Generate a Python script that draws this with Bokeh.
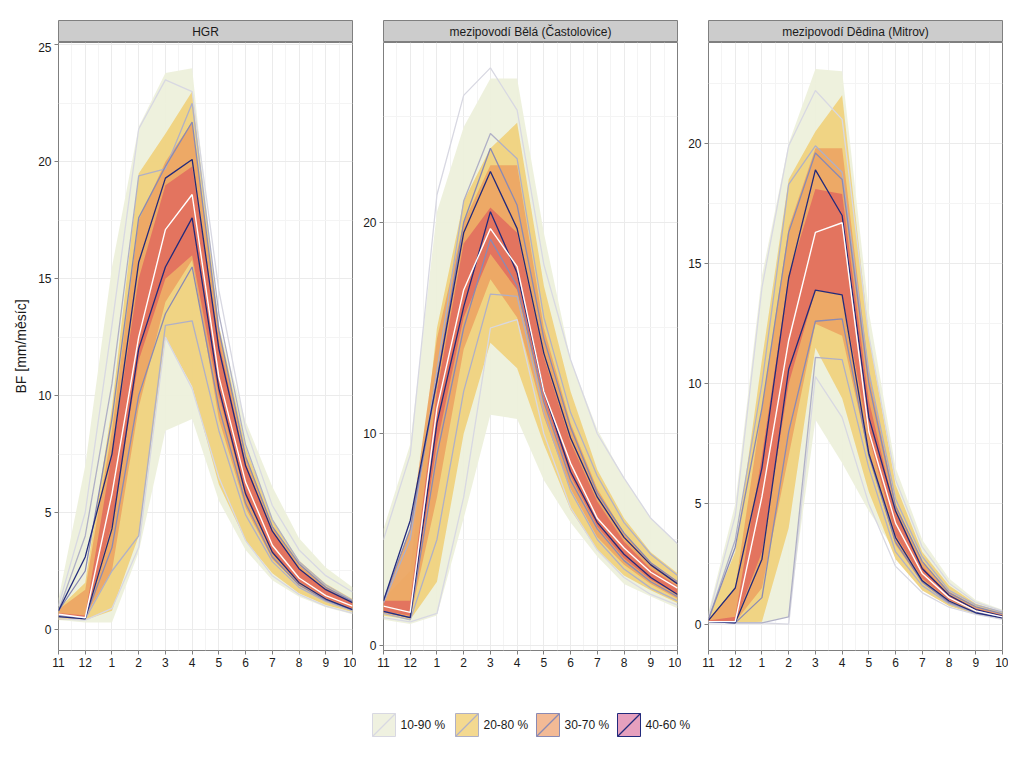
from bokeh.plotting import figure
from bokeh.layouts import column, row
from bokeh.models import Range1d, FixedTicker
from bokeh.embed import file_html
from bokeh.resources import INLINE
from bokeh.core.properties import value

# ---------------- data ----------------
months = ["11", "12", "1", "2", "3", "4", "5", "6", "7", "8", "9", "10"]
panel_titles = ["HGR", "mezipovodí Bělá (Častolovice)", "mezipovodí Dědina (Mitrov)"]
band_labels = ["10-90 %", "20-80 %", "30-70 %", "40-60 %"]
y_axis_label = "BF [mm/měsíc]"

# Panel 1: HGR
hgr_fill_10_90_lo = [0.4, 0.3, 0.3, 3.3, 8.5, 9.0, 5.5, 3.4, 2.1, 1.4, 0.95, 0.65]
hgr_fill_10_90_hi = [1.3, 7.0, 15.5, 21.5, 23.8, 24.0, 13.0, 8.9, 6.1, 3.9, 2.65, 1.8]
hgr_fill_20_80_lo = [0.4, 0.4, 0.8, 4.0, 12.5, 10.4, 6.2, 3.8, 2.4, 1.55, 1.05, 0.75]
hgr_fill_20_80_hi = [0.9, 2.0, 9.5, 19.5, 21.2, 23.0, 13.0, 7.8, 4.7, 2.95, 1.95, 1.3]
hgr_fill_30_70_lo = [0.6, 0.55, 2.5, 9.5, 14.0, 15.8, 9.0, 5.2, 3.0, 1.9, 1.25, 0.88]
hgr_fill_30_70_hi = [0.85, 1.7, 8.5, 17.5, 20.0, 21.7, 12.8, 7.4, 4.4, 2.75, 1.8, 1.2]
hgr_fill_40_60_lo = [0.6, 0.5, 4.5, 11.5, 15.0, 16.0, 10.0, 5.7, 3.3, 2.05, 1.35, 0.9]
hgr_fill_40_60_hi = [0.7, 0.6, 7.5, 15.0, 19.0, 19.8, 12.3, 7.1, 4.2, 2.6, 1.7, 1.12]
hgr_line_10_90_lo = [0.45, 0.4, 0.9, 3.5, 12.5, 10.3, 6.5, 3.8, 2.3, 1.5, 1.0, 0.7]
hgr_line_10_90_hi = [1.0, 5.0, 13.0, 21.4, 23.5, 23.0, 14.5, 8.6, 5.3, 3.4, 2.3, 1.6]
hgr_line_20_80_lo = [0.55, 0.45, 2.5, 4.0, 13.0, 13.2, 8.5, 4.9, 2.9, 1.8, 1.2, 0.8]
hgr_line_20_80_hi = [0.8, 4.0, 10.5, 19.4, 19.7, 22.5, 13.5, 7.9, 4.7, 2.9, 1.9, 1.25]
hgr_line_30_70_lo = [0.6, 0.5, 3.5, 10.0, 13.5, 15.5, 9.5, 5.4, 3.1, 1.9, 1.25, 0.85]
hgr_line_30_70_hi = [0.8, 2.5, 9.0, 17.6, 19.8, 21.7, 12.8, 7.4, 4.4, 2.8, 1.8, 1.2]
hgr_line_40_60_lo = [0.55, 0.45, 4.3, 12.0, 15.5, 17.6, 10.3, 5.8, 3.3, 2.0, 1.3, 0.85]
hgr_line_40_60_hi = [0.8, 3.1, 7.5, 15.7, 19.3, 20.1, 12.0, 7.0, 4.2, 2.6, 1.7, 1.15]
hgr_median = [0.65, 0.5, 5.8, 12.5, 17.1, 18.6, 10.8, 6.3, 3.6, 2.2, 1.45, 1.0]

# Panel 2: Bělá (Častolovice)
bela_fill_10_90_lo = [1.2, 1.0, 1.4, 6.0, 10.9, 10.7, 7.8, 5.8, 4.2, 2.9, 2.3, 1.75]
bela_fill_10_90_hi = [5.5, 9.5, 20.5, 24.5, 26.8, 26.8, 19.5, 13.5, 10.2, 7.9, 6.0, 4.8]
bela_fill_20_80_lo = [1.4, 1.2, 3.0, 10.0, 14.3, 13.1, 9.5, 6.4, 4.5, 3.3, 2.6, 2.0]
bela_fill_20_80_hi = [2.2, 3.5, 15.0, 21.0, 23.5, 24.7, 17.0, 12.0, 8.3, 6.0, 4.4, 3.4]
bela_fill_30_70_lo = [1.5, 1.3, 7.0, 14.0, 17.3, 15.5, 10.8, 7.4, 5.1, 3.8, 2.9, 2.2]
bela_fill_30_70_hi = [2.1, 5.5, 14.5, 20.0, 22.7, 22.7, 15.0, 10.5, 7.4, 5.3, 3.9, 3.0]
bela_fill_40_60_lo = [1.6, 1.4, 9.5, 15.5, 18.5, 16.8, 11.6, 8.0, 5.6, 4.1, 3.1, 2.4]
bela_fill_40_60_hi = [2.1, 2.1, 12.0, 19.0, 20.7, 19.5, 13.6, 9.6, 6.8, 4.9, 3.6, 2.8]
bela_line_10_90_lo = [1.3, 1.1, 1.5, 7.0, 15.0, 15.4, 10.0, 6.5, 4.5, 3.2, 2.4, 1.9]
bela_line_10_90_hi = [5.0, 9.0, 21.3, 26.0, 27.3, 25.3, 18.0, 13.5, 10.0, 7.9, 6.0, 4.8]
bela_line_20_80_lo = [1.5, 1.2, 5.0, 12.0, 16.6, 16.5, 11.0, 7.3, 5.0, 3.6, 2.7, 2.1]
bela_line_20_80_hi = [2.0, 5.0, 13.0, 21.0, 24.2, 23.0, 15.5, 11.0, 8.0, 5.8, 4.3, 3.3]
bela_line_30_70_lo = [1.6, 1.3, 9.0, 15.0, 19.2, 17.0, 11.5, 7.8, 5.5, 4.0, 3.0, 2.3]
bela_line_30_70_hi = [2.1, 5.5, 12.5, 20.0, 23.5, 20.8, 14.5, 10.3, 7.2, 5.3, 3.9, 3.0]
bela_line_40_60_lo = [1.6, 1.3, 10.5, 16.0, 20.5, 17.6, 12.0, 8.2, 5.8, 4.3, 3.2, 2.4]
bela_line_40_60_hi = [2.1, 5.9, 12.5, 19.5, 22.4, 19.7, 13.8, 9.8, 7.0, 5.1, 3.8, 2.9]
bela_median = [1.85, 1.55, 11.2, 16.8, 19.7, 17.9, 12.0, 8.6, 6.0, 4.6, 3.45, 2.7]

# Panel 3: Dědina (Mitrov)
dedina_fill_10_90_lo = [0.05, 0.05, 0.05, 0.3, 8.5, 6.7, 4.7, 3.0, 1.8, 0.95, 0.5, 0.25]
dedina_fill_10_90_hi = [0.5, 5.0, 14.5, 20.0, 23.1, 23.0, 13.0, 6.5, 3.5, 1.9, 1.0, 0.6]
dedina_fill_20_80_lo = [0.05, 0.05, 0.1, 4.0, 11.5, 9.4, 5.5, 2.7, 1.4, 0.75, 0.4, 0.2]
dedina_fill_20_80_hi = [0.3, 3.0, 11.0, 18.5, 20.5, 22.0, 12.0, 5.8, 3.0, 1.6, 0.85, 0.5]
dedina_fill_30_70_lo = [0.1, 0.1, 1.5, 7.0, 12.5, 12.0, 7.0, 3.3, 1.7, 0.9, 0.5, 0.28]
dedina_fill_30_70_hi = [0.2, 1.5, 9.0, 16.5, 19.8, 19.8, 10.5, 5.0, 2.6, 1.35, 0.72, 0.42]
dedina_fill_40_60_lo = [0.1, 0.1, 3.0, 10.0, 13.9, 13.7, 7.8, 3.7, 1.9, 1.0, 0.55, 0.3]
dedina_fill_40_60_hi = [0.15, 0.3, 7.0, 14.5, 18.1, 17.9, 9.3, 4.6, 2.4, 1.2, 0.65, 0.38]
dedina_line_10_90_lo = [0.05, 0.05, 0.05, 0.0, 10.3, 8.6, 5.0, 2.4, 1.3, 0.7, 0.4, 0.2]
dedina_line_10_90_hi = [0.3, 4.5, 14.0, 19.9, 22.2, 21.0, 12.0, 6.0, 3.2, 1.7, 0.9, 0.55]
dedina_line_20_80_lo = [0.1, 0.05, 0.05, 0.3, 11.1, 11.0, 6.5, 3.0, 1.6, 0.85, 0.45, 0.25]
dedina_line_20_80_hi = [0.2, 3.5, 10.0, 18.3, 19.9, 18.8, 10.5, 5.2, 2.8, 1.4, 0.8, 0.5]
dedina_line_30_70_lo = [0.1, 0.05, 1.1, 8.0, 12.6, 12.7, 7.0, 3.4, 1.75, 0.9, 0.5, 0.27]
dedina_line_30_70_hi = [0.2, 3.2, 9.0, 16.3, 19.6, 18.5, 10.0, 4.9, 2.6, 1.3, 0.72, 0.42]
dedina_line_40_60_lo = [0.1, 0.05, 2.7, 10.6, 13.9, 13.7, 7.1, 3.6, 1.8, 0.96, 0.47, 0.26]
dedina_line_40_60_hi = [0.15, 1.5, 6.5, 14.4, 18.9, 17.0, 8.6, 4.7, 2.3, 1.2, 0.6, 0.33]
dedina_median = [0.1, 0.1, 5.3, 11.8, 16.3, 16.7, 8.0, 4.2, 2.1, 1.1, 0.55, 0.3]

# y-axis ticks / limits per panel
hgr_yticks = [0, 5, 10, 15, 20, 25]
bela_yticks = [0, 10, 20]
dedina_yticks = [0, 5, 10, 15, 20]
hgr_ylim = (-0.9, 25.1)
bela_ylim = (-0.25, 28.5)
dedina_ylim = (-1.1, 24.2)

# ---------------- styles ----------------
FILL_COLORS = ["#EDF0DB", "#EFD27E", "#ECA764", "#E3715F"]
LINE_COLORS = ["#D8D8E2", "#B0B0C6", "#8A8AB4", "#222A7C"]
KEY_FILLS = ["#EFF1E0", "#F4D990", "#F3BA95", "#E6A0BE"]
FONT = "Liberation Sans"
TEXT_COLOR = "#1A1A1A"
BORDER = "#7F7F7F"

panels = [
    dict(title=panel_titles[0],
         fills=[(hgr_fill_10_90_lo, hgr_fill_10_90_hi), (hgr_fill_20_80_lo, hgr_fill_20_80_hi),
                (hgr_fill_30_70_lo, hgr_fill_30_70_hi), (hgr_fill_40_60_lo, hgr_fill_40_60_hi)],
         lines=[(hgr_line_10_90_lo, hgr_line_10_90_hi), (hgr_line_20_80_lo, hgr_line_20_80_hi),
                (hgr_line_30_70_lo, hgr_line_30_70_hi), (hgr_line_40_60_lo, hgr_line_40_60_hi)],
         median=hgr_median, yticks=hgr_yticks, ylim=hgr_ylim),
    dict(title=panel_titles[1],
         fills=[(bela_fill_10_90_lo, bela_fill_10_90_hi), (bela_fill_20_80_lo, bela_fill_20_80_hi),
                (bela_fill_30_70_lo, bela_fill_30_70_hi), (bela_fill_40_60_lo, bela_fill_40_60_hi)],
         lines=[(bela_line_10_90_lo, bela_line_10_90_hi), (bela_line_20_80_lo, bela_line_20_80_hi),
                (bela_line_30_70_lo, bela_line_30_70_hi), (bela_line_40_60_lo, bela_line_40_60_hi)],
         median=bela_median, yticks=bela_yticks, ylim=bela_ylim),
    dict(title=panel_titles[2],
         fills=[(dedina_fill_10_90_lo, dedina_fill_10_90_hi), (dedina_fill_20_80_lo, dedina_fill_20_80_hi),
                (dedina_fill_30_70_lo, dedina_fill_30_70_hi), (dedina_fill_40_60_lo, dedina_fill_40_60_hi)],
         lines=[(dedina_line_10_90_lo, dedina_line_10_90_hi), (dedina_line_20_80_lo, dedina_line_20_80_hi),
                (dedina_line_30_70_lo, dedina_line_30_70_hi), (dedina_line_40_60_lo, dedina_line_40_60_hi)],
         median=dedina_median, yticks=dedina_yticks, ylim=dedina_ylim),
]

FRAME_W = 294
lefts = [58, 27, 27]
rights = [4, 4, 6]

x = list(range(len(months)))
x_major = FixedTicker(ticks=x, minor_ticks=[i + 0.5 for i in x[:-1]])

cols = []
for i, pn in enumerate(panels):
    w = lefts[i] + FRAME_W + rights[i]

    # strip header
    s = figure(width=w, height=42, x_range=Range1d(0, 1), y_range=Range1d(0, 1),
               x_axis_type=None, y_axis_type=None, output_backend="svg", toolbar_location=None,
               min_border_left=lefts[i], min_border_right=rights[i],
               min_border_top=20, min_border_bottom=1)
    s.background_fill_color = "#CCCCCC"
    s.border_fill_color = "white"
    s.outline_line_color = BORDER
    s.grid.visible = False
    s.text(x=[0.5], y=[0.45], text=[pn["title"]], text_align="center", text_baseline="middle",
           text_font=value(FONT), text_font_size="12px", text_color=TEXT_COLOR)

    # panel
    p = figure(width=w, height=638, x_range=Range1d(0, 11), y_range=Range1d(*pn["ylim"]),
               output_backend="svg", toolbar_location=None,
               min_border_left=lefts[i], min_border_right=rights[i],
               min_border_top=0, min_border_bottom=30)
    p.background_fill_color = "white"
    p.border_fill_color = "white"
    p.outline_line_color = BORDER

    yt = pn["yticks"]
    step = yt[1] - yt[0]
    y_minor = [t + step / 2 for t in yt] + [yt[0] - step / 2]
    y_ticker = FixedTicker(ticks=yt, minor_ticks=y_minor)

    p.xaxis.ticker = x_major
    p.xgrid.ticker = x_major
    p.yaxis.ticker = y_ticker
    p.ygrid.ticker = y_ticker
    p.xaxis.major_label_overrides = {k: m for k, m in enumerate(months)}
    for ax in (p.xaxis[0], p.yaxis[0]):
        ax.axis_line_color = None
        ax.major_tick_line_color = BORDER
        ax.major_tick_out = 4
        ax.major_tick_in = 0
        ax.minor_tick_line_color = None
        ax.major_label_text_font = FONT
        ax.major_label_text_font_size = "12px"
        ax.major_label_text_color = TEXT_COLOR
        ax.major_label_standoff = 3
    for g in (p.xgrid[0], p.ygrid[0]):
        g.grid_line_color = "#EBEBEB"
        g.grid_line_width = 1
        g.minor_grid_line_color = "#F4F4F4"
        g.minor_grid_line_width = 1
    if i == 0:
        p.yaxis.axis_label = y_axis_label
        p.yaxis.axis_label_text_font = FONT
        p.yaxis.axis_label_text_font_size = "14px"
        p.yaxis.axis_label_text_font_style = "normal"
        p.yaxis.axis_label_text_color = TEXT_COLOR
        p.yaxis.axis_label_standoff = 6

    for k, (lo, hi) in enumerate(pn["fills"]):
        p.varea(x=x, y1=lo, y2=hi, fill_color=FILL_COLORS[k], fill_alpha=0.95)
    for k, (lo, hi) in enumerate(pn["lines"]):
        p.line(x, lo, line_color=LINE_COLORS[k], line_width=1.3)
        p.line(x, hi, line_color=LINE_COLORS[k], line_width=1.3)
    p.line(x, pn["median"], line_color="white", line_width=1.4)

    cols.append(column(s, p, spacing=0))

# legend (drawn as its own small figure, coordinates = page pixels)
key_left = [372, 455, 536, 617]
key_size = 23
key_top, key_bottom = 713, 736
lg = figure(width=1008, height=80, x_range=Range1d(0, 1008), y_range=Range1d(760, 680),
            x_axis_type=None, y_axis_type=None, output_backend="svg", toolbar_location=None,
            min_border=0)
lg.outline_line_color = None
lg.grid.visible = False
lg.border_fill_color = "white"
lg.background_fill_color = "white"
for k, lab in enumerate(band_labels):
    l = key_left[k]
    lg.quad(left=[l], right=[l + key_size], top=[key_top], bottom=[key_bottom],
            fill_color=KEY_FILLS[k], line_color=LINE_COLORS[k], line_width=1)
    lg.segment(x0=[l], y0=[key_bottom], x1=[l + key_size], y1=[key_top],
               line_color=LINE_COLORS[k], line_width=1.2)
    lg.text(x=[l + key_size + 5], y=[(key_top + key_bottom) / 2], text=[lab],
            text_align="left", text_baseline="middle", text_font=value(FONT),
            text_font_size="12px", text_color=TEXT_COLOR)

layout = column(row(*cols, spacing=0), lg, spacing=0)

open("out.html", "w").write(file_html(layout, INLINE))
